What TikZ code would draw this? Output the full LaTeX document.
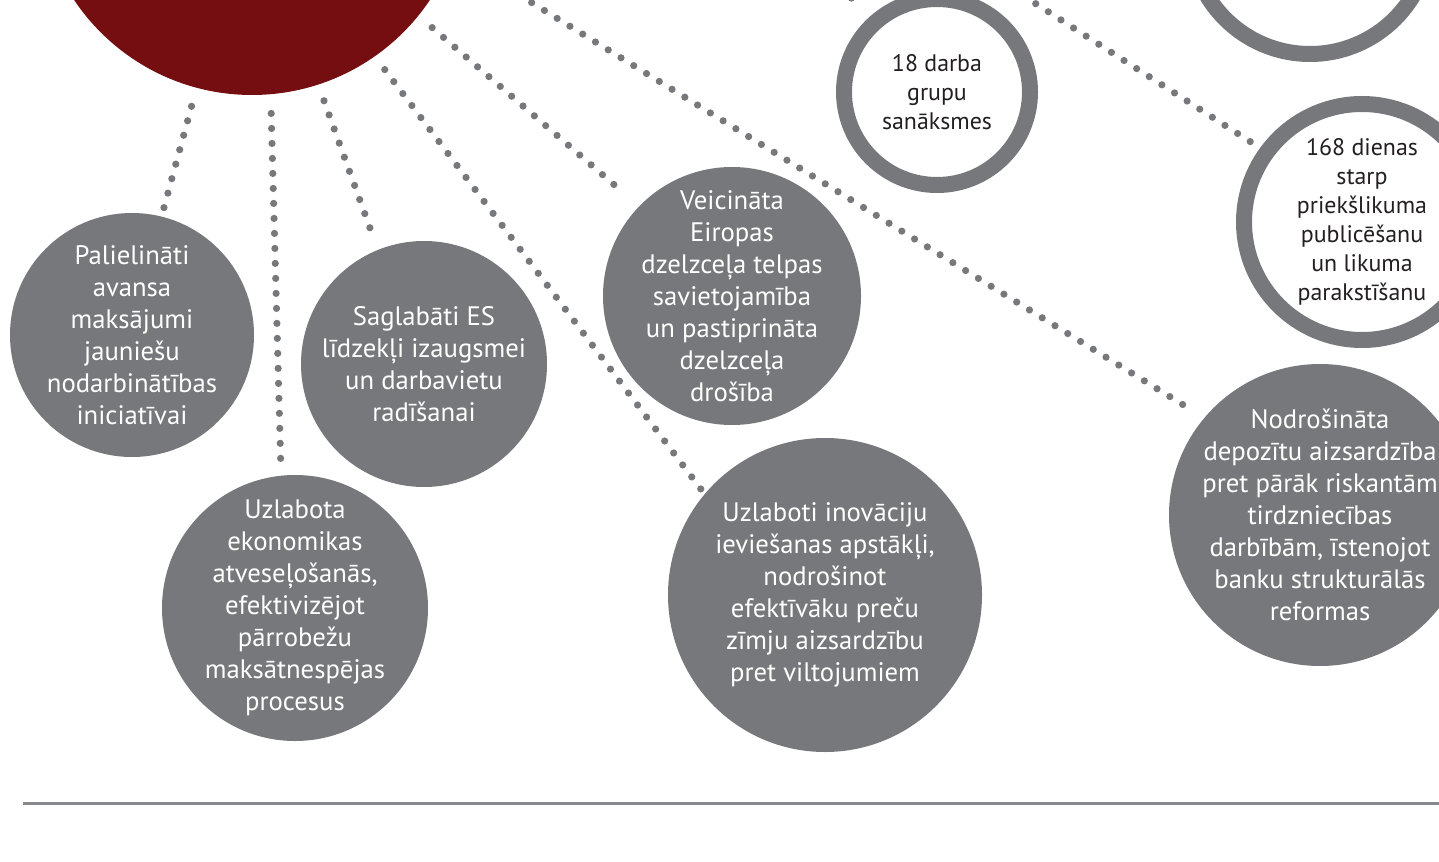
\documentclass[tikz,border=0pt]{standalone}
\usepackage{fontspec}
\setmainfont{PT Sans}
\usepackage{tikz}
\definecolor{HubRed}{RGB}{116,14,17}
\definecolor{BubbleGray}{RGB}{119,120,123}
\definecolor{RuleGray}{RGB}{135,136,139}
\definecolor{RingText}{RGB}{35,31,32}

\begin{document}
\begin{tikzpicture}[
  x=0.25mm, y=-0.25mm,
  hub/.style={
    circle,
    fill=HubRed,
    inner sep=0pt,
    minimum size=#1*0.25mm
  },
  bubble/.style={
    circle,
    fill=BubbleGray,
    inner sep=0pt,
    minimum size=#1*0.25mm
  },
  ring/.style={
    circle,
    draw=BubbleGray,
    fill=white,
    line width=4mm,
    inner sep=0pt,
    minimum size=#1*0.25mm
  },
  bubbletext/.style={text=white, align=center, font=\fontsize{19}{22.8}\selectfont},
  ringtext/.style={text=RingText, align=center, font=\fontsize{17}{20.6}\selectfont},
  link/.style={draw=BubbleGray, line width=1.8mm, line cap=round, dash pattern=on 0pt off 3.75mm},
  rule/.style={draw=RuleGray, line width=0.75mm}
]
\useasboundingbox (0,0) rectangle (1439,862);
\clip (0,0) rectangle (1439,862);

\node[hub=428] (hub) at (252,-119) {};

\node[bubble=244, label={[bubbletext]center:Palielināti\\avansa\\maksājumi\\jauniešu\\nodarbinātības\\iniciatīvai}] (palielinati) at (132,335) {};
\node[bubble=246, label={[bubbletext]center:Saglabāti ES\\līdzekļi izaugsmei\\un darbavietu\\radīšanai}] (saglabati) at (424,364) {};
\node[bubble=266, label={[bubbletext]center:Uzlabota\\ekonomikas\\atveseļošanās,\\efektivizējot\\pārrobežu\\maksātnespējas\\procesus}] (uzlabota) at (295,608) {};
\node[bubble=258, label={[bubbletext]center:Veicināta\\Eiropas\\dzelzceļa telpas\\savietojamība\\un pastiprināta\\dzelzceļa\\drošība}] (veicinata) at (732,296) {};
\node[bubble=314, label={[bubbletext]center:Uzlaboti inovāciju\\ieviešanas apstākļi,\\nodrošinot\\efektīvāku preču\\zīmju aizsardzību\\pret viltojumiem}] (uzlaboti) at (825,595) {};
\node[bubble=302, label={[bubbletext]center:Nodrošināta\\depozītu aizsardzība\\pret pārāk riskantām\\tirdzniecības\\darbībām, īstenojot\\banku strukturālās\\reformas}] (nodrosinata) at (1320,515) {};

\node[ring=240] (ringtop) at (1310,-66) {};
\node[ring=186, label={[ringtext]center:18 darba\\grupu\\sanāksmes}] (ring18) at (937,92) {};
\node[ring=236, label={[ringtext]center:168 dienas\\starp\\priekšlikuma\\publicēšanu\\un likuma\\parakstīšanu}] (ring168) at (1362,222) {};

\coordinate (offtop) at (960,-45);
\coordinate (offleft) at (790,-45);

% dotted links
\draw[link, shorten <=4.75mm, shorten >=0.75mm] (hub.-105) -- (palielinati.76);
\draw[link, shorten <=4.75mm, shorten >=1mm] (hub.-85) -- (uzlabota.96);
\draw[link, shorten <=4.25mm, shorten >=5mm] (hub.-72) -- (saglabati.112);
\draw[link, shorten <=4.1mm, shorten >=1.25mm] (hub.-55) -- (uzlaboti.140);
\draw[link, shorten <=4.5mm, shorten >=4.9mm] (hub.-39) -- (veicinata.136);
\draw[link, shorten <=4.25mm, shorten >=4.25mm] (hub.-20) -- (nodrosinata.140);
\draw[link, shorten >=1mm] (offtop) -- (ring168.144);
\draw[link, shorten >=4.25mm] (offleft) -- (ring18.129);

\draw[rule] (23,803) -- (1439,803);
\end{tikzpicture}
\end{document}
